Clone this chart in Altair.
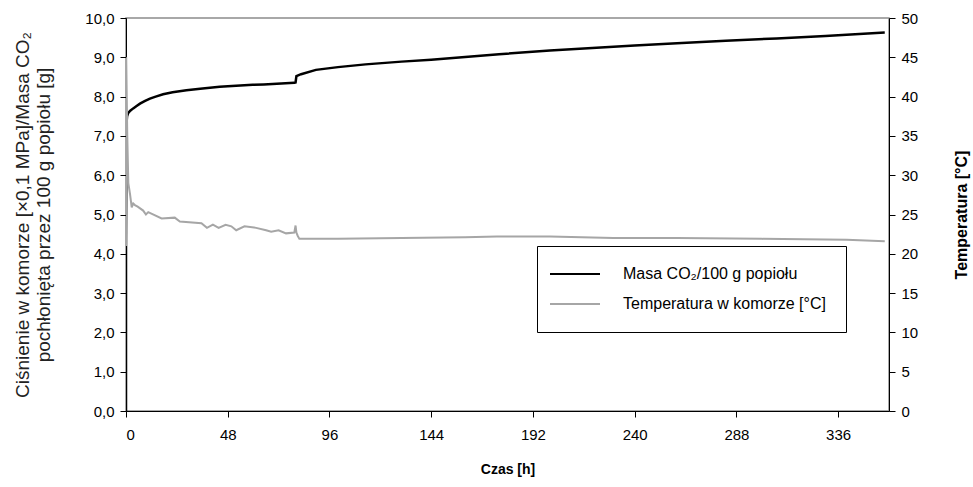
import altair as alt
import pandas as pd

# --- data ---
mass_t = [0, 0, 0.2, 0.5, 1.0, 2.0, 3.4, 5.0, 6.6, 9.0, 11.3, 14.0, 17.5, 22.0, 28.5, 35.0,
          44.2, 50.0, 59.8, 65.0, 79.4, 80.0, 80.4, 82.6, 89.6, 100, 113, 130, 144, 160,
          176, 200, 222, 240, 260, 283, 307, 330, 358]
mass_v = [0, 4.2, 7.3, 7.5, 7.58, 7.64, 7.70, 7.76, 7.82, 7.89, 7.95, 8.00, 8.06, 8.11,
          8.16, 8.20, 8.25, 8.27, 8.30, 8.31, 8.35, 8.36, 8.52, 8.57, 8.68, 8.75, 8.82,
          8.89, 8.94, 9.01, 9.08, 9.17, 9.24, 9.30, 9.36, 9.42, 9.48, 9.54, 9.63]

temp_t = [0, 0.1, 0.6, 1.1, 1.9, 2.7, 3.4, 4.2, 5.5, 8.1, 9.4, 10.5, 16.8, 23, 25.4, 35.6,
          38.2, 41, 43.7, 47, 49.7, 52, 55.9, 61.4, 66.1, 68.5, 72, 75.5, 79.4, 80.0, 80.4,
          81, 81.8, 91, 100, 130, 160, 175, 200, 230, 260, 300, 340, 358]
temp_v = [21.0, 45.0, 35.0, 29.0, 27.6, 25.9, 26.4, 26.2, 26.0, 25.5, 25.0, 25.3, 24.5, 24.6,
          24.1, 23.9, 23.3, 23.7, 23.3, 23.7, 23.5, 23.0, 23.5, 23.3, 23.0, 22.8, 23.0, 22.6,
          22.7, 23.6, 22.7, 22.3, 21.9, 21.9, 21.9, 22.0, 22.1, 22.2, 22.2, 22.0, 22.0, 21.9,
          21.8, 21.6]

x_ticks = [0, 48, 96, 144, 192, 240, 288, 336]
left_ticks = [0, 1, 2, 3, 4, 5, 6, 7, 8, 9, 10]
right_ticks = [0, 5, 10, 15, 20, 25, 30, 35, 40, 45, 50]

s_mass = "Masa CO₂/100 g popiołu"
s_temp = "Temperatura w komorze [°C]"

df_mass = pd.DataFrame({"t": mass_t, "v": mass_v, "s": s_mass, "o": range(len(mass_t))})
df_temp = pd.DataFrame({"t": temp_t, "v": temp_v, "s": s_temp, "o": range(len(temp_t))})

FONT = "Liberation Sans"

x_enc = alt.X("t:Q", scale=alt.Scale(domain=[0, 360], nice=False),
              axis=alt.Axis(values=x_ticks, title="Czas [h]", grid=False,
                            domainColor="black", tickColor="black", tickSize=6,
                            labelFontSize=15, labelPadding=10, labelColor="black",
                            titleFontSize=14, titleFontWeight="bold", titleColor="black",
                            titlePadding=20, labelFont=FONT, titleFont=FONT))

color = alt.Color("s:N", scale=alt.Scale(domain=[s_mass, s_temp], range=["black", "#a6a6a6"]),
                  legend=alt.Legend(title=None, orient="none", legendX=411, legendY=228,
                                    symbolType="M-3,0H7", symbolSize=100, symbolStrokeWidth=2,
                                    labelFontSize=16, labelFont=FONT, labelColor="black",
                                    labelLimit=400, labelOffset=50, rowPadding=14, padding=20,
                                    strokeColor="black", fillColor="white"))

mass_line = alt.Chart(df_mass).mark_line(strokeWidth=2.5, clip=True).encode(
    x=x_enc,
    y=alt.Y("v:Q", scale=alt.Scale(domain=[0, 10], nice=False),
            axis=alt.Axis(values=left_ticks, grid=False, orient="left",
                          labelExpr="replace(format(datum.value, '.1f'), '.', ',')",
                          title=["Ciśnienie w komorze [×0,1 MPa]/Masa CO₂",
                                 "pochłonięta przez 100 g popiołu [g]"],
                          titleFontSize=19, titleFontWeight="normal", titleColor="#222",
                          titleLineHeight=21, titlePadding=31,
                          domainColor="black", tickColor="black", tickSize=6,
                          labelFontSize=15, labelPadding=6, labelColor="black",
                          labelFont=FONT, titleFont=FONT)),
    color=color,
    order="o:Q",
)

temp_line = alt.Chart(df_temp).mark_line(strokeWidth=2, clip=True).encode(
    x=x_enc,
    y=alt.Y("v:Q", scale=alt.Scale(domain=[0, 50], nice=False),
            axis=alt.Axis(values=right_ticks, grid=False, orient="right",
                          title="Temperatura [°C]", titleAngle=270,
                          titleFontSize=16, titleFontWeight="bold", titleColor="black",
                          titlePadding=52,
                          domainColor="black", tickColor="black", tickSize=6,
                          labelFontSize=15, labelPadding=6, labelColor="black",
                          labelFont=FONT, titleFont=FONT)),
    color=color,
    order="o:Q",
)

chart = alt.layer(mass_line, temp_line).resolve_scale(y="independent").properties(
    width=763, height=393,
    autosize=alt.AutoSizeParams(type="none"),
    padding={"left": 126, "top": 18, "right": 84, "bottom": 76},
    background="white",
).configure_view(stroke="#8c8c8c", strokeWidth=1.5)

chart.save("out.html", embed_options={"renderer": "svg", "actions": False})
